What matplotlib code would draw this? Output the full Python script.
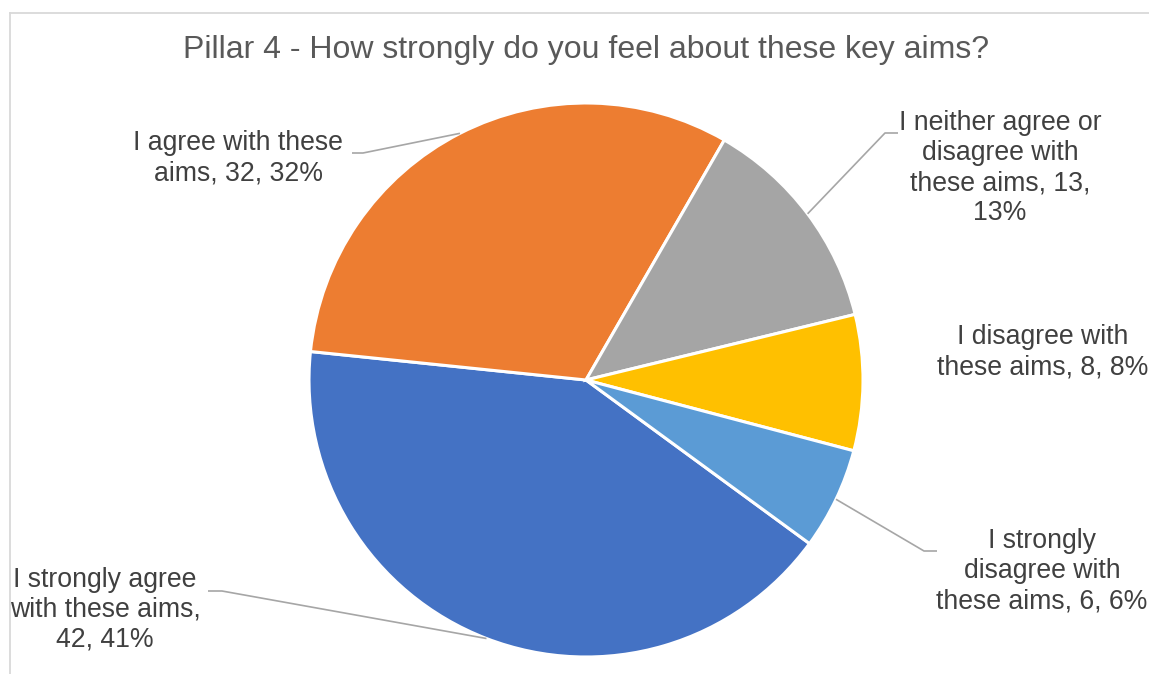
import numpy as np
import matplotlib
matplotlib.use("Agg")
import matplotlib.pyplot as plt
from matplotlib.lines import Line2D

plt.rcParams['font.family'] = ['Liberation Sans', 'DejaVu Sans']

# Survey responses, in series order (drawn clockwise)
categories = [
    "I strongly agree with these aims",
    "I agree with these aims",
    "I neither agree or disagree with these aims",
    "I disagree with these aims",
    "I strongly disagree with these aims",
]
values = [42, 32, 13, 8, 6]
percent_labels = ["41%", "32%", "13%", "8%", "6%"]
label_lines = [
    ["I strongly agree", "with these aims,", "42, 41%"],
    ["I agree with these", "aims, 32, 32%"],
    ["I neither agree or", "disagree with", "these aims, 13,", "13%"],
    ["I disagree with", "these aims, 8, 8%"],
    ["I strongly", "disagree with", "these aims, 6, 6%"],
]
colors = ["#4472C4", "#ED7D31", "#A5A5A5", "#FFC000", "#5B9BD5"]

W, H = 1149, 674
fig = plt.figure(figsize=(W / 100, H / 100), dpi=100)
ax = fig.add_axes([0, 0, 1, 1])

cx, cy, R = 586, H - 380, 277
wedges, _ = ax.pie(values, colors=colors, startangle=-36.2, counterclock=False,
                   center=(cx, cy), radius=R,
                   wedgeprops=dict(edgecolor="white", linewidth=2.2))
ax.set_xlim(0, W)
ax.set_ylim(0, H)
ax.set_aspect('equal')
ax.axis('off')

# Label placement: text centre, elbow of leader, leader end (None = no leader)
label_pos = [(105, H - 610), (238, H - 158), (1000, H - 168), (1043, H - 352), (1042, H - 571)]
elbows = [((222, H - 591), (208, H - 591)),
          ((363, H - 153), (352, H - 153)),
          ((885, H - 133), (898, H - 133)),
          None,
          ((924, H - 551), (937, H - 551))]

lead_col = "#A6A6A6"
for w, lines, pos, elb in zip(wedges, label_lines, label_pos, elbows):
    ax.text(pos[0], pos[1], "\n".join(lines), ha="center", va="center",
            fontsize=19.2, color="#404040", linespacing=1.2)
    if elb is not None:
        mid = np.deg2rad((w.theta1 + w.theta2) / 2)
        sx, sy = cx + R * np.cos(mid), cy + R * np.sin(mid)
        ax.plot([sx, elb[0][0], elb[1][0]], [sy, elb[0][1], elb[1][1]],
                color=lead_col, lw=1.2, solid_capstyle="butt")

ax.text(586, H - 50, "Pillar 4 - How strongly do you feel about these key aims?",
        ha="center", va="center", fontsize=23, color="#595959")

# Chart-area border
frame_col = "#D9D9D9"
fig.add_artist(Line2D([10 / W, 10 / W], [0, (H - 13) / H], transform=fig.transFigure,
                      color=frame_col, lw=1.3))
fig.add_artist(Line2D([10 / W, 1], [(H - 13) / H, (H - 13) / H], transform=fig.transFigure,
                      color=frame_col, lw=1.3))

fig.savefig("out.png", dpi=100, facecolor="white")
